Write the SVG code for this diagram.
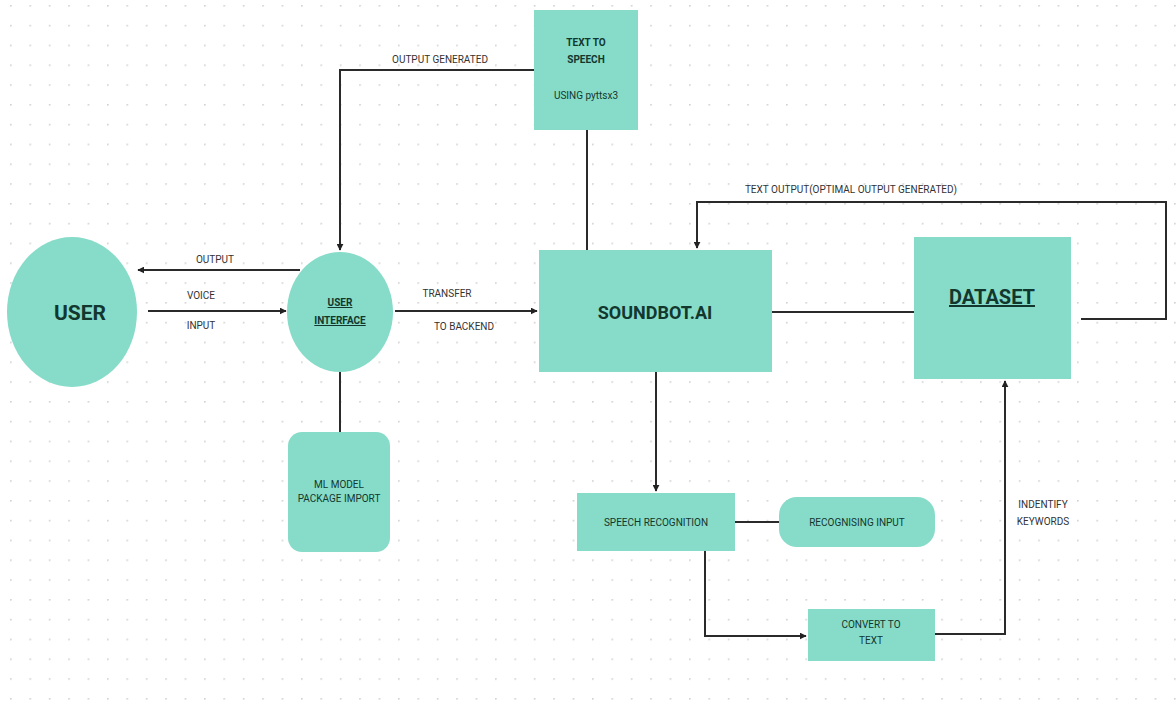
<svg xmlns="http://www.w3.org/2000/svg" width="1176" height="711" viewBox="0 0 1176 711">
<defs>
<pattern id="dots" x="10" y="5" width="19.4" height="19.8" patternUnits="userSpaceOnUse">
<circle cx="0.8" cy="0.8" r="1" fill="#d4d4d4"/>
</pattern>
<marker id="arr" viewBox="0 0 10 10" refX="9" refY="5" markerWidth="7" markerHeight="7" orient="auto" markerUnits="userSpaceOnUse">
<path d="M0,0 L10,5 L0,10 z" fill="#222"/>
</marker>
<style>
.n{fill:#86dcc8;}
.t{font-family:Roboto,"Liberation Sans",sans-serif;fill:#12372f;text-anchor:middle;}
.b{font-weight:bold;}
.l{font-family:Roboto,"Liberation Sans",sans-serif;fill:#333;font-size:10px;text-anchor:middle;}
.c{fill:none;stroke:#2a2a2a;stroke-width:2;}
</style>
</defs>
<rect width="1176" height="711" fill="#fff"/>
<rect width="1176" height="711" fill="url(#dots)"/>
<g id="connectors">
<path class="c" d="M534,70 H340 V250" marker-end="url(#arr)"/>
<path class="c" d="M587,130 V250"/>
<path class="c" d="M300,270 H138" marker-end="url(#arr)"/>
<path class="c" d="M148,311 H286" marker-end="url(#arr)"/>
<path class="c" d="M395,311 H537" marker-end="url(#arr)"/>
<path class="c" d="M340,368 V436"/>
<path class="c" d="M772,312 H914"/>
<path class="c" d="M1081,319 H1166 V202 H697 V248" marker-end="url(#arr)"/>
<path class="c" d="M656,372 V491" marker-end="url(#arr)"/>
<path class="c" d="M735,522 H779"/>
<path class="c" d="M705,551 V636 H806" marker-end="url(#arr)"/>
<path class="c" d="M935,634 H1005 V381" marker-end="url(#arr)"/>
<text class="l" x="440" y="63">OUTPUT GENERATED</text>
<text class="l" x="215" y="263">OUTPUT</text>
<text class="l" x="201" y="299">VOICE</text>
<text class="l" x="201" y="329">INPUT</text>
<text class="l" x="447" y="297">TRANSFER</text>
<text class="l" x="464" y="330">TO BACKEND</text>
<text class="l" x="851" y="193">TEXT OUTPUT(OPTIMAL OUTPUT GENERATED)</text>
<text class="l" x="1043" y="508">INDENTIFY</text>
<text class="l" x="1043" y="525">KEYWORDS</text>
</g>
<g id="user">
<ellipse class="n" cx="72" cy="312" rx="65" ry="75"/>
<text class="t b" x="80" y="320" font-size="21">USER</text>
</g>
<g id="user-interface">
<ellipse class="n" cx="340" cy="312" rx="53" ry="60"/>
<text class="t b" x="340" y="306" font-size="10" text-decoration="underline">USER</text>
<text class="t b" x="340" y="324" font-size="10" text-decoration="underline">INTERFACE</text>
</g>
<g id="text-to-speech">
<rect class="n" x="534" y="10" width="104" height="120"/>
<text class="t b" x="586" y="46" font-size="10">TEXT TO</text>
<text class="t b" x="586" y="63" font-size="10">SPEECH</text>
<text class="t" x="586" y="99" font-size="10">USING pyttsx3</text>
</g>
<g id="soundbot">
<rect class="n" x="539" y="250" width="233" height="122"/>
<text class="t b" x="655" y="319" font-size="18">SOUNDBOT.AI</text>
</g>
<g id="dataset">
<rect class="n" x="914" y="237" width="157" height="142"/>
<text class="t b" x="992" y="304" font-size="20" text-decoration="underline">DATASET</text>
</g>
<g id="ml-model">
<rect class="n" x="288" y="432" width="102" height="120" rx="14"/>
<text class="t" x="339" y="488" font-size="10">ML MODEL</text>
<text class="t" x="339" y="502" font-size="10">PACKAGE IMPORT</text>
</g>
<g id="speech-recognition">
<rect class="n" x="577" y="493" width="158" height="58"/>
<text class="t" x="656" y="526" font-size="10">SPEECH RECOGNITION</text>
</g>
<g id="recognising-input">
<rect class="n" x="779" y="497" width="156" height="50" rx="18"/>
<text class="t" x="857" y="526" font-size="10">RECOGNISING INPUT</text>
</g>
<g id="convert-to-text">
<rect class="n" x="808" y="609" width="127" height="52"/>
<text class="t" x="871" y="628" font-size="10">CONVERT TO</text>
<text class="t" x="871" y="644" font-size="10">TEXT</text>
</g>
</svg>
